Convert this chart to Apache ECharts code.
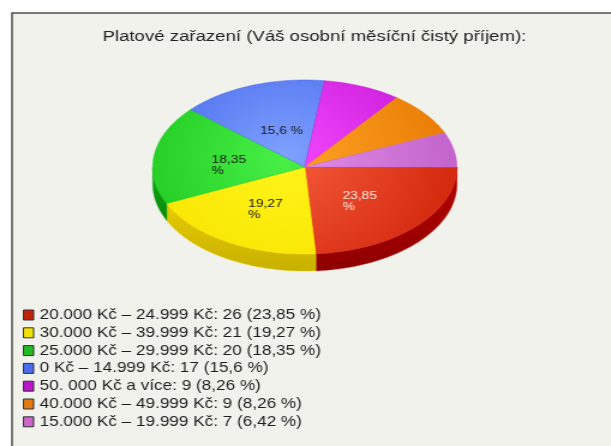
<!DOCTYPE html>
<html>
<head>
<meta charset="utf-8">
<script src="https://cdn.jsdelivr.net/npm/echarts@6/dist/echarts.min.js"></script>
<style>
  html, body { margin: 0; padding: 0; background: #fff; overflow: hidden; }
  /* the source picture is stretched sideways, so the chart is drawn narrower and widened */
  #chart { width: 509px; height: 446px; transform: scaleX(1.2); transform-origin: 0 0; }
</style>
</head>
<body>
<div id="chart"></div>
<script>
  // data
  const categories = [
    '20.000 Kč – 24.999 Kč',
    '30.000 Kč – 39.999 Kč',
    '25.000 Kč – 29.999 Kč',
    '0 Kč – 14.999 Kč',
    '50. 000 Kč a více',
    '40.000 Kč – 49.999 Kč',
    '15.000 Kč – 19.999 Kč'
  ]
  const counts = [26, 21, 20, 17, 9, 9, 7]

  const legendColors = ['#c42208', '#f2e200', '#22bb22', '#4a6cee', '#bb14cc', '#e27a10', '#cc66cc']
  const topLight = ['#f65c3c', '#fff41a', '#48f048', '#80a2ff', '#f448ff', '#ffa428', '#e290ea']
  const topDark = ['#d42a10', '#f8e400', '#1ec81e', '#4466ea', '#c81ad8', '#ea7c04', '#c464cc']
  const sideTop = ['#b80400', '#e6cc00', '#14a814', '#3050c8', '#a010b0', '#c06000', '#a050a8']
  const sideBottom = ['#8e0000', '#c8b000', '#0a8a0a', '#203ca8', '#800890', '#a04c00', '#864088']

  const total = counts.reduce((a, b) => a + b, 0)
  function pct(i) {
    return parseFloat((counts[i] / total * 100).toFixed(2)).toString().replace('.', ',')
  }

  // pie geometry in the narrow (unstretched) chart
  const cx = 254, cy = 167, rx = 126.7, ry = 87, depth = 17

  function arcPoints(a0, a1, dy) {
    const pts = []
    const n = Math.max(2, Math.ceil((a1 - a0) / (Math.PI / 180)))
    for (let k = 0; k <= n; k++) {
      const a = a0 + (a1 - a0) * k / n
      pts.push([cx + rx * Math.cos(a), cy + ry * Math.sin(a) + dy])
    }
    return pts
  }

  function renderSlice(i) {
    return function (params, api) {
      let before = 0
      for (let j = 0; j < i; j++) before += counts[j]
      const a0 = before / total * Math.PI * 2
      const a1 = (before + api.value(0)) / total * Math.PI * 2
      const children = []

      // front wall
      const b0 = Math.max(a0, 0), b1 = Math.min(a1, Math.PI)
      if (b1 > b0) {
        const pts = arcPoints(b0, b1, 0).concat(arcPoints(b0, b1, depth).reverse())
        children.push({
          type: 'polygon',
          z2: 1,
          shape: { points: pts },
          style: {
            fill: {
              type: 'linear', x: 0, y: 0, x2: 0, y2: 1,
              colorStops: [{ offset: 0, color: sideTop[i] }, { offset: 1, color: sideBottom[i] }]
            },
            stroke: sideTop[i],
            lineWidth: 0.5
          }
        })
      }

      // top face
      children.push({
        type: 'polygon',
        z2: 5,
        shape: { points: [[cx, cy]].concat(arcPoints(a0, a1, 0)) },
        style: {
          fill: {
            type: 'radial', x: cx - 16, y: cy - 10, r: rx * 1.1, global: true,
            colorStops: [{ offset: 0, color: topLight[i] }, { offset: 1, color: topDark[i] }]
          },
          stroke: topDark[i],
          lineWidth: 0.5
        }
      })

      // label for bigger slices
      const p = counts[i] / total * 100
      if (p >= 10) {
        const s = pct(i)
        const mid = (a0 + a1) / 2
        const px = cx + rx * 0.5 * Math.cos(mid)
        const py = cy + ry * 0.5 * Math.sin(mid)
        children.push({
          type: 'text',
          z2: 10,
          x: px - 15,
          y: py + 5,
          style: {
            text: s.length > 4 ? s + '\n%' : s + ' %',
            fill: i === 0 ? '#ffe8e0' : '#1a1a1a',
            fontSize: 11.5,
            fontFamily: 'Liberation Sans',
            align: 'left',
            verticalAlign: 'middle',
            lineHeight: 11
          }
        })
      }
      return { type: 'group', children: children }
    }
  }

  const chart = echarts.init(document.getElementById('chart'))

  const series = categories.map((name, i) => ({
    name: name,
    type: 'custom',
    coordinateSystem: 'none',
    itemStyle: { color: legendColors[i] },
    silent: true,
    animation: false,
    data: [[counts[i]]],
    renderItem: renderSlice(i)
  }))

  chart.setOption({
    backgroundColor: '#ffffff',
    animation: false,
    title: {
      text: 'Platové zařazení (Váš osobní měsíční čistý příjem):',
      left: 257,
      top: 24,
      textAlign: 'center',
      textStyle: {
        fontFamily: 'Liberation Sans',
        fontSize: 15.5,
        fontWeight: 'normal',
        color: '#222'
      }
    },
    graphic: [{
      type: 'rect',
      z: -10,
      silent: true,
      shape: { x: 10, y: 13, width: 600, height: 500 },
      style: { fill: '#f2f2ed', stroke: '#4e4e4e', lineWidth: 1.5 }
    }],
    legend: {
      orient: 'vertical',
      left: 19,
      top: 308,
      padding: 0,
      icon: 'rect',
      itemWidth: 8.5,
      itemHeight: 10,
      itemGap: 3.8,
      selectedMode: false,
      itemStyle: { borderColor: '#333', borderWidth: 1 },
      textStyle: {
        fontFamily: 'Liberation Sans',
        fontSize: 14.3,
        lineHeight: 14,
        color: '#1e1e1e'
      },
      data: categories,
      formatter: function (name) {
        const i = categories.indexOf(name)
        return name + ': ' + counts[i] + ' (' + pct(i) + ' %)'
      }
    },
    series: series
  })
</script>
</body>
</html>
